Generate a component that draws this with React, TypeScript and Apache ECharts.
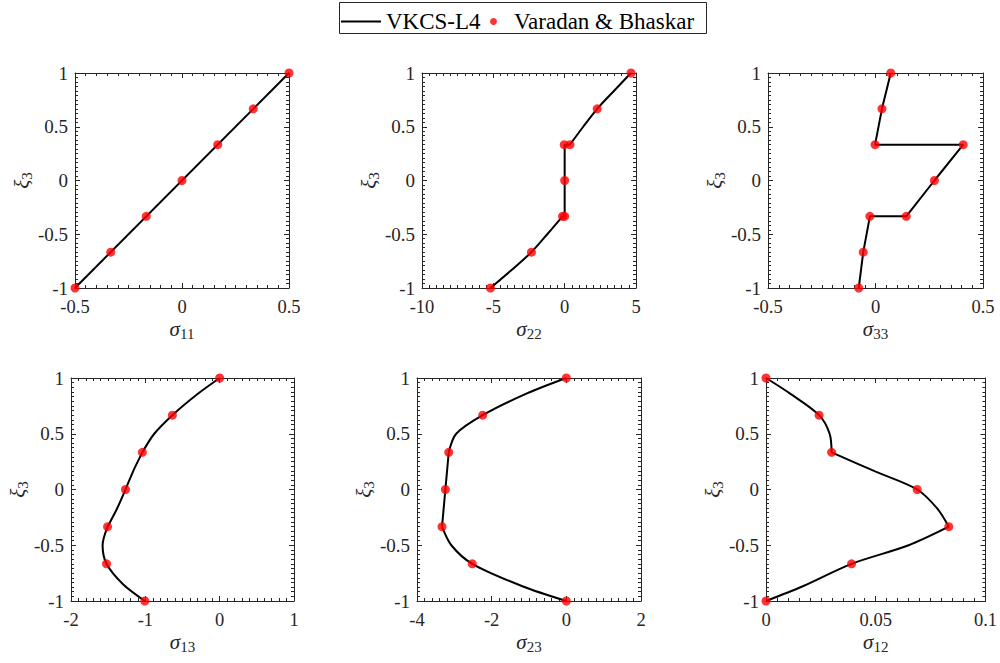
import React, { useEffect, useRef } from "react";
import * as echarts from "echarts";

const FONT = '"Liberation Serif", "DejaVu Serif", serif';
const AXIS_COLOR = "#262626";

// ξ3 levels of the reference markers
const XI = [-1, -2 / 3, -1 / 3, 0, 1 / 3, 2 / 3, 1];

// Varadan & Bhaskar markers ([sigma, xi])
const refS11: number[][] = [[-0.5, -1], [-0.333, -2 / 3], [-0.167, -1 / 3], [0, 0], [0.167, 1 / 3], [0.333, 2 / 3], [0.5, 1]];
const refS22: number[][] = [[-5.2, -1], [-2.33, -2 / 3], [-0.15, -1 / 3], [0, -1 / 3], [0, 0], [-0.03, 1 / 3], [0.37, 1 / 3], [2.28, 2 / 3], [4.65, 1]];
const refS33: number[][] = [[-0.078, -1], [-0.057, -2 / 3], [-0.026, -1 / 3], [0.143, -1 / 3], [0.274, 0], [0.408, 1 / 3], [-0.002, 1 / 3], [0.03, 2 / 3], [0.071, 1]];
const refS13x = [-1.007, -1.522, -1.508, -1.267, -1.04, -0.636, 0];
const refS23x = [0, -2.52, -3.33, -3.24, -3.15, -2.24, 0];
const refS12x = [0, 0.039, 0.0833, 0.0689, 0.0299, 0.0242, 0];

// VKCS-L4 curves, layer by layer ([sigma, xi])
const lineS11: number[][][] = [[[-0.5, -1], [0.5, 1]]];
const lineS22: number[][][] = [
  [[-5.2, -1], [-3.7, -0.83], [-2.33, -2 / 3], [-1.22, -0.5], [-0.15, -1 / 3]],
  [[-0.15, -1 / 3], [0, -1 / 3], [0, 0], [0, 1 / 3], [0.37, 1 / 3]],
  [[0.37, 1 / 3], [1.3, 0.5], [2.28, 2 / 3], [3.5, 0.84], [4.65, 1]],
];
const lineS33: number[][][] = [
  [[-0.078, -1], [-0.057, -2 / 3], [-0.026, -1 / 3], [0.143, -1 / 3], [0.274, 0], [0.408, 1 / 3], [-0.002, 1 / 3], [0.03, 2 / 3], [0.071, 1]],
];
const lineS13: number[][][] = [
  [[-1.007, -1], [-1.3, -0.85], [-1.522, -2 / 3], [-1.575, -0.5], [-1.508, -1 / 3]],
  [[-1.508, -1 / 3], [-1.38, -0.17], [-1.267, 0], [-1.16, 0.17], [-1.04, 1 / 3]],
  [[-1.04, 1 / 3], [-0.88, 0.5], [-0.636, 2 / 3], [-0.31, 0.85], [0, 1]],
];
const lineS23: number[][][] = [
  [[0, -1], [-1.16, -0.87], [-2.52, -2 / 3], [-3.08, -0.5], [-3.33, -1 / 3]],
  [[-3.33, -1 / 3], [-3.24, 0], [-3.15, 1 / 3]],
  [[-3.15, 1 / 3], [-2.95, 0.5], [-2.24, 2 / 3], [-1.07, 0.86], [0, 1]],
];
const lineS12: number[][][] = [
  [[0, -1], [0.0165, -0.87], [0.039, -2 / 3], [0.065, -0.5], [0.0833, -1 / 3]],
  [[0.0833, -1 / 3], [0.078, -0.17], [0.0689, 0], [0.05, 0.16], [0.0299, 1 / 3]],
  [[0.0299, 1 / 3], [0.029, 0.5], [0.0242, 2 / 3], [0.011, 0.86], [0, 1]],
];

// axis ranges
const xRanges = [
  { min: -0.5, max: 0.5, interval: 0.5, sub: "11" },
  { min: -10, max: 5, interval: 5, sub: "22" },
  { min: -0.5, max: 0.5, interval: 0.5, sub: "33" },
  { min: -2, max: 1, interval: 1, sub: "13" },
  { min: -4, max: 2, interval: 2, sub: "23" },
  { min: 0, max: 0.1, interval: 0.05, sub: "12" },
];
const yTicks = { min: -1, max: 1, interval: 0.5 };

const grids = [
  { left: 75, top: 73, width: 214, height: 215 },
  { left: 422, top: 73, width: 214, height: 215 },
  { left: 768, top: 73, width: 215, height: 215 },
  { left: 71, top: 378, width: 223, height: 223 },
  { left: 417, top: 378, width: 224, height: 223 },
  { left: 766, top: 378, width: 221, height: 223 },
];

const withXi = (xs: number[]) => xs.map((x, i) => [x, XI[i]]);
const refs = [refS11, refS22, refS33, withXi(refS13x), withXi(refS23x), withXi(refS12x)];
const lines = [lineS11, lineS22, lineS33, lineS13, lineS23, lineS12];
const smoothFlags = [false, true, false, true, true, true];

function axisCommon(show: boolean, margin: number, fontSize: number) {
  return {
    axisLine: { show: true, onZero: false, lineStyle: { color: AXIS_COLOR, width: 1 } },
    axisTick: { show: true, inside: true, length: 5, lineStyle: { color: AXIS_COLOR, width: 1 } },
    minorTick: { show: true, length: 3, lineStyle: { color: AXIS_COLOR, width: 1 } },
    splitLine: { show: false },
    minorSplitLine: { show: false },
    axisLabel: {
      show,
      fontFamily: FONT,
      fontSize,
      lineHeight: 14,
      color: AXIS_COLOR,
      margin,
    },
  };
}

const nameRich = {
  i: { fontFamily: FONT, fontStyle: "italic", fontSize: 21, color: AXIS_COLOR, lineHeight: 20, verticalAlign: "top" },
  s: { fontFamily: FONT, fontSize: 15, color: AXIS_COLOR, lineHeight: 23, verticalAlign: "bottom" },
};

export default function App() {
  const ref = useRef<HTMLDivElement>(null);
  useEffect(() => {
    if (!ref.current) return;
    const chart = echarts.init(ref.current, undefined, { renderer: "svg" });
    const xAxis: any[] = [];
    const yAxis: any[] = [];
    const series: any[] = [];
    grids.forEach((g, i) => {
      const r = xRanges[i];
      const cx = axisCommon(true, 12, 18.5);
      const cy = axisCommon(true, 7, 19);
      const ct = axisCommon(false, 7, 19);
      xAxis.push({
        type: "value",
        gridIndex: i,
        position: "bottom",
        min: r.min,
        max: r.max,
        interval: r.interval,
        ...cx,
        minorTick: { ...cx.minorTick, splitNumber: 10 },
        name: `{i|σ}{s|${r.sub}}`,
        nameLocation: "middle",
        nameGap: 30,
        nameTextStyle: { rich: nameRich },
      });
      xAxis.push({
        type: "value",
        gridIndex: i,
        position: "top",
        min: r.min,
        max: r.max,
        interval: r.interval,
        ...ct,
        minorTick: { ...ct.minorTick, splitNumber: 10 },
      });
      yAxis.push({
        type: "value",
        gridIndex: i,
        position: "left",
        ...yTicks,
        ...cy,
        minorTick: { ...cy.minorTick, splitNumber: 12 },
        name: "{i|ξ}{s|3}",
        nameLocation: "middle",
        nameGap: 32,
        nameTextStyle: { rich: nameRich },
      });
      yAxis.push({
        type: "value",
        gridIndex: i,
        position: "right",
        ...yTicks,
        ...ct,
        minorTick: { ...ct.minorTick, splitNumber: 12 },
      });
      lines[i].forEach((seg) => {
        series.push({
          type: "line",
          name: "VKCS-L4",
          xAxisIndex: 2 * i,
          yAxisIndex: 2 * i,
          data: seg,
          smooth: smoothFlags[i] && seg.length > 3 ? 0.3 : false,
          showSymbol: false,
          symbol: "none",
          lineStyle: { color: "#000", width: 2 },
          itemStyle: { color: "#000" },
          z: 2,
          silent: true,
        });
      });
      series.push({
        type: "scatter",
        name: "Varadan & Bhaskar",
        xAxisIndex: 2 * i,
        yAxisIndex: 2 * i,
        data: refs[i],
        symbol: "circle",
        symbolSize: 9,
        itemStyle: { color: "#ff0000" },
        z: 3,
      });
    });

    chart.setOption({
      animation: false,
      backgroundColor: "#fff",
      grid: grids.map((g) => ({ ...g, containLabel: false })),
      xAxis,
      yAxis,
      series,
      legend: [
        {
          data: [{ name: "VKCS-L4", icon: "rect", itemStyle: { color: "#000" } }],
          left: 336,
          top: 5,
          itemWidth: 40,
          itemHeight: 2,
          itemGap: 0,
          selectedMode: false,
          textStyle: { fontFamily: FONT, fontSize: 23, color: "#000" },
        },
        {
          data: ["Varadan & Bhaskar"],
          left: 485,
          top: 5,
          itemWidth: 7,
          itemHeight: 7,
          selectedMode: false,
          textStyle: { fontFamily: FONT, fontSize: 23, color: "#000", padding: [0, 0, 0, 12] },
        },
      ],
      graphic: [
        {
          type: "rect",
          shape: { x: 339.5, y: 2.5, width: 367, height: 31 },
          style: { fill: "rgba(0,0,0,0)", stroke: AXIS_COLOR, lineWidth: 1 },
          silent: true,
        },
      ],
    });
    return () => chart.dispose();
  }, []);
  return <div ref={ref} style={{ position: "fixed", left: 0, top: 0, width: 1000, height: 663 }} />;
}
